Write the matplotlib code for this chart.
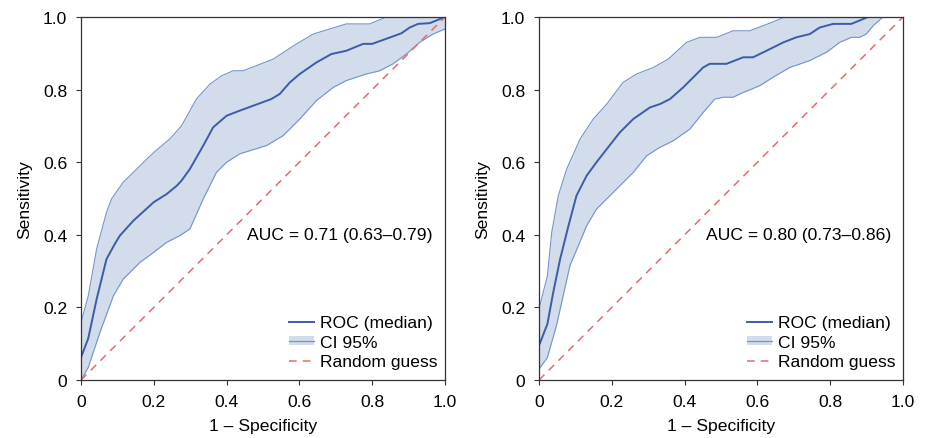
import matplotlib
matplotlib.use("Agg")
import matplotlib.pyplot as plt
from matplotlib.lines import Line2D
from matplotlib.patches import Patch
import numpy as np

plt.rcParams['font.family'] = ['Liberation Sans', 'DejaVu Sans']

# ---- Left panel data ----
left_med_x = [0, 0.02, 0.043, 0.07, 0.093, 0.107, 0.144, 0.2, 0.235, 0.263, 0.276, 0.299, 0.336, 0.363, 0.4, 0.436,
              0.523, 0.546, 0.574, 0.601, 0.647, 0.688, 0.729, 0.775, 0.8, 0.88, 0.903, 0.926, 0.958, 1.0]
left_med_y = [0.062, 0.115, 0.223, 0.333, 0.375, 0.398, 0.439, 0.49, 0.512, 0.535, 0.549, 0.581, 0.646, 0.696, 0.728, 0.742,
              0.774, 0.788, 0.82, 0.843, 0.875, 0.898, 0.907, 0.926, 0.926, 0.955, 0.971, 0.981, 0.983, 1.0]
left_up_x = [0, 0.02, 0.043, 0.07, 0.084, 0.116, 0.162, 0.2, 0.244, 0.276, 0.317, 0.354, 0.386, 0.418, 0.446,
             0.528, 0.592, 0.638, 0.683, 0.729, 0.793, 0.839, 1.0]
left_up_y = [0.159, 0.232, 0.361, 0.462, 0.499, 0.545, 0.59, 0.627, 0.664, 0.70, 0.774, 0.815, 0.838, 0.852, 0.852,
             0.884, 0.926, 0.953, 0.967, 0.981, 0.981, 1.0, 1.0]
left_lo_x = [0, 0.02, 0.052, 0.089, 0.116, 0.162, 0.2, 0.235, 0.272, 0.299, 0.336, 0.372, 0.4, 0.436, 0.51, 0.555,
             0.601, 0.647, 0.693, 0.729, 0.784, 0.821, 0.857, 0.894, 0.93, 0.967, 1.0]
left_lo_y = [0.0, 0.035, 0.131, 0.232, 0.278, 0.324, 0.352, 0.379, 0.398, 0.416, 0.499, 0.572, 0.6, 0.623, 0.646, 0.673,
             0.719, 0.77, 0.806, 0.825, 0.843, 0.852, 0.871, 0.898, 0.93, 0.953, 0.967]
left_auc = "AUC = 0.71 (0.63\u20130.79)"

# ---- Right panel data ----
right_med_x = [0, 0.023, 0.039, 0.058, 0.081, 0.103, 0.131, 0.158, 0.186, 0.222, 0.259, 0.305, 0.332, 0.36, 0.396, 0.424,
               0.451, 0.469, 0.515, 0.561, 0.588, 0.625, 0.671, 0.707, 0.744, 0.771, 0.808, 0.858, 0.904, 1.0]
right_med_y = [0.095, 0.154, 0.241, 0.333, 0.425, 0.508, 0.563, 0.6, 0.636, 0.682, 0.719, 0.751, 0.76, 0.774, 0.806, 0.834,
               0.861, 0.871, 0.871, 0.889, 0.889, 0.907, 0.93, 0.944, 0.953, 0.971, 0.981, 0.981, 1.0, 1.0]
right_up_x = [0, 0.023, 0.035, 0.053, 0.076, 0.113, 0.149, 0.186, 0.231, 0.268, 0.314, 0.355, 0.405, 0.442, 0.488,
              0.533, 0.579, 0.634, 0.675, 1.0]
right_up_y = [0.196, 0.287, 0.407, 0.508, 0.581, 0.664, 0.719, 0.76, 0.82, 0.843, 0.861, 0.884, 0.93, 0.944, 0.944,
              0.962, 0.962, 0.983, 1.0, 1.0]
right_lo_x = [0, 0.023, 0.048, 0.085, 0.131, 0.158, 0.204, 0.259, 0.296, 0.332, 0.369, 0.414, 0.451, 0.483, 0.506,
              0.533, 0.561, 0.607, 0.643, 0.689, 0.744, 0.79, 0.826, 0.858, 0.881, 0.899, 0.918, 0.945, 1.0]
right_lo_y = [0.03, 0.062, 0.15, 0.315, 0.425, 0.471, 0.517, 0.572, 0.618, 0.641, 0.659, 0.691, 0.737, 0.774, 0.779,
              0.779, 0.792, 0.811, 0.834, 0.861, 0.88, 0.903, 0.93, 0.944, 0.944, 0.953, 0.976, 1.0, 1.0]
right_auc = "AUC = 0.80 (0.73\u20130.86)"

ticks = [0, 0.2, 0.4, 0.6, 0.8, 1.0]
tick_labels = ["0", "0.2", "0.4", "0.6", "0.8", "1.0"]

MED = "#3b5ca8"
FILL = "#d3dcea"
EDGE = "#7593cf"
RAND = "#e46b6b"
SPINE = "#333333"
FS = 12.6

fig = plt.figure(figsize=(9.3, 4.39), dpi=100)
ax1 = fig.add_axes([81/930, 1-381/439, 364/930, 363/439])
ax2 = fig.add_axes([539/930, 1-381/439, 364/930, 363/439])

def panel(ax, mx, my, ux, uy, lx, ly, auc):
    grid = np.linspace(0, 1, 401)
    up = np.interp(grid, ux, uy)
    lo = np.interp(grid, lx, ly)
    ax.fill_between(grid, lo, up, color=FILL, lw=0)
    ax.plot(ux, uy, color=EDGE, lw=0.8)
    ax.plot(lx, ly, color=EDGE, lw=0.8)
    ax.plot(mx, my, color=MED, lw=1.4)
    ax.plot([0, 1], [0, 1], color=RAND, lw=1.1, ls=(0, (5, 4)))
    ax.set_xlim(0, 1)
    ax.set_ylim(0, 1)
    ax.set_xticks(ticks)
    ax.set_xticklabels(tick_labels)
    ax.set_yticks(ticks)
    ax.set_yticklabels(tick_labels)
    ax.tick_params(direction='out', length=3.6, width=0.8, labelsize=FS, pad=6.3, color=SPINE)
    for s in ax.spines.values():
        s.set_linewidth(0.9)
        s.set_color(SPINE)
    ax.set_xlabel("1 \u2013 Specificity", fontsize=FS, labelpad=7)
    ax.set_ylabel("Sensitivity", fontsize=FS, labelpad=8)
    ax.text(0.967, 0.4, auc, fontsize=FS, ha='right', va='center', transform=ax.transData)
    band_handle = (Patch(facecolor=FILL, edgecolor='none'), Line2D([0], [0], color=EDGE, lw=0.9))
    handles = [Line2D([0], [0], color=MED, lw=1.4),
               band_handle,
               Line2D([0], [0], color=RAND, lw=1.1, ls=(0, (5, 4)))]
    ax.legend(handles, ["ROC (median)", "CI 95%", "Random guess"], loc='lower right',
              frameon=False, fontsize=FS, handlelength=1.45, handleheight=0.45,
              labelspacing=0.25, handletextpad=0.35, borderaxespad=0, borderpad=0,
              bbox_to_anchor=(0.98, 0.03))

panel(ax1, left_med_x, left_med_y, left_up_x, left_up_y, left_lo_x, left_lo_y, left_auc)
panel(ax2, right_med_x, right_med_y, right_up_x, right_up_y, right_lo_x, right_lo_y, right_auc)

fig.savefig("out.png", dpi=100)
